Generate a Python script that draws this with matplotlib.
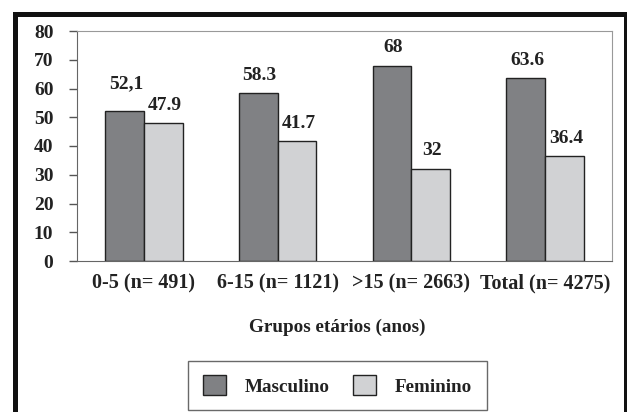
import matplotlib
matplotlib.use("Agg")
import matplotlib.pyplot as plt
from matplotlib.patches import Rectangle, Patch
import numpy as np

plt.rcParams['font.family'] = ['Liberation Serif', 'DejaVu Serif']
plt.rcParams['font.weight'] = 'bold'

# dados
grupos = ["0-5 (n= 491)", "6-15 (n= 1121)", ">15 (n= 2663)", "Total (n= 4275)"]
masculino = [52.1, 58.3, 68.0, 63.6]
feminino = [47.9, 41.7, 32.0, 36.4]
rot_masc = ["52,1", "58.3", "68", "63.6"]
rot_fem = ["47.9", "41.7", "32", "36.4"]
yticks = [0, 10, 20, 30, 40, 50, 60, 70, 80]

cor_masc = "#808184"
cor_fem = "#d1d2d4"

W, H = 627, 412
fig = plt.figure(figsize=(W / 100, H / 100), dpi=100)
ax = fig.add_axes([77 / W, 1 - 261 / H, (612 - 77) / W, (261 - 31) / H])

x = np.arange(len(grupos))
larg = 0.29
b1 = ax.bar(x - larg / 2, masculino, larg, color=cor_masc, edgecolor="#222222", linewidth=1)
b2 = ax.bar(x + larg / 2, feminino, larg, color=cor_fem, edgecolor="#222222", linewidth=1)

for i, (r, t) in enumerate(zip(b1, rot_masc)):
    # o primeiro rótulo fica mais alto para não encostar no vizinho
    dy = 20 if i == 0 else 13
    ax.annotate(t, (r.get_x() + r.get_width() / 2, r.get_height()), xytext=(1, dy),
                textcoords="offset points", ha="center", va="center", fontsize=14, color="#222222")
for r, t in zip(b2, rot_fem):
    ax.annotate(t, (r.get_x() + r.get_width() / 2, r.get_height()), xytext=(1, 13),
                textcoords="offset points", ha="center", va="center", fontsize=14, color="#222222")

ax.set_xlim(-0.5, 3.5)
ax.set_ylim(0, 80)
ax.set_yticks(yticks)
ax.set_yticklabels([str(v) for v in yticks], fontsize=14, color="#222222")
ax.set_xticks(x)
ax.set_xticklabels(grupos, fontsize=14.5, color="#222222")
ax.tick_params(axis="x", length=0, pad=9)
ax.tick_params(axis="y", length=6, width=1, color="#555555", pad=11)
for s in ["left", "bottom"]:
    ax.spines[s].set_color("#666666")
for s in ["top", "right"]:
    ax.spines[s].set_color("#999999")

fig.text(337 / W, 1 - 327 / H, "Grupos etários (anos)", ha="center", va="center",
         fontsize=13.8, color="#222222")

handles = [Patch(facecolor=cor_masc, edgecolor="#222222", label="Masculino"),
           Patch(facecolor=cor_fem, edgecolor="#222222", label="Feminino")]
leg = fig.legend(handles=handles, loc="center", bbox_to_anchor=(337.5 / W, 1 - 385.5 / H),
                 ncol=2, fontsize=13.8, frameon=True, fancybox=False, edgecolor="#444444",
                 handlelength=1.2, handleheight=1.2, handletextpad=1.0, columnspacing=1.2,
                 borderpad=0.75, borderaxespad=0)
leg.get_frame().set_linewidth(1)
for t in leg.get_texts():
    t.set_color("#222222")

# moldura grossa
fig.patches.append(Rectangle((15.5 / W, -0.1), (625.5 - 15.5) / W, 1.1 - 14.5 / H,
                             transform=fig.transFigure, fill=False, edgecolor="#111111",
                             linewidth=3.6, zorder=10))

fig.savefig("out.png", dpi=100)
